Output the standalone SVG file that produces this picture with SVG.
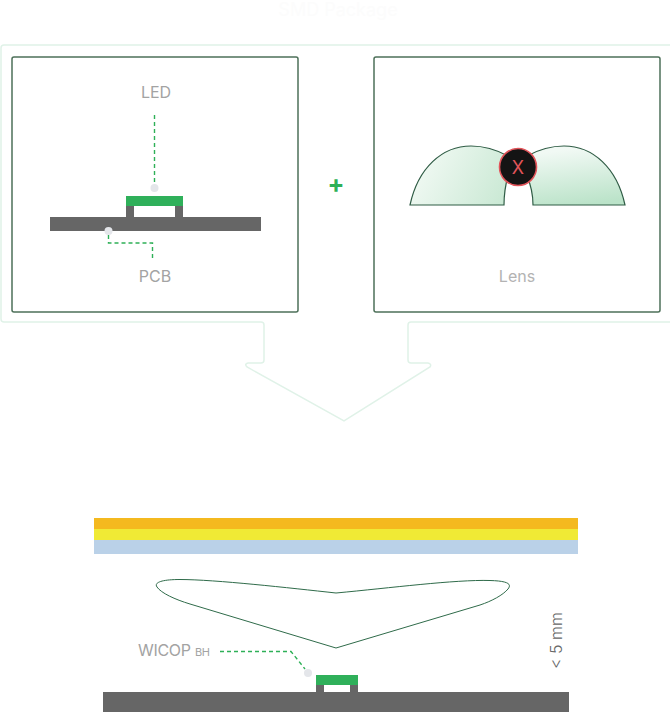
<svg xmlns="http://www.w3.org/2000/svg" width="670" height="712" viewBox="0 0 670 712">
<style>
text{font-family:"Inter","Liberation Sans",sans-serif}
.lb{font-size:16px;fill:#a3a3a3;text-anchor:middle}
.box{fill:#fff;stroke:#4d7059;stroke-width:1.5}
.out{fill:none;stroke:#e0f2e8;stroke-width:1.5}
.dash{fill:none;stroke:#2eb057;stroke-width:1.4;stroke-dasharray:4 3}
.dot{fill:#e4e6ea}
.pcb{fill:#666}
.led{fill:#2fb05a}
.lens{stroke:#2f5c45;stroke-width:1.2}
</style>
<defs>
<linearGradient id="g1" gradientUnits="userSpaceOnUse" x1="425" y1="165" x2="510" y2="210"><stop offset="0" stop-color="#eef8f1"/><stop offset="1" stop-color="#c6e7d1"/></linearGradient>
<linearGradient id="g2" gradientUnits="userSpaceOnUse" x1="565" y1="150" x2="572" y2="206"><stop offset="0" stop-color="#f1f9f4"/><stop offset="1" stop-color="#bbe3c9"/></linearGradient>
</defs>
<text id="title" x="338" y="16" font-size="18" fill="#fcfcfc" text-anchor="middle">SMD Package</text>
<g id="panel"><path class="out" d="M670 45H4Q1 45 1 48V319Q1 322 4 322H261Q264 322 264 325V360Q264 363 261 363H248Q244 364 247 367L344 421L430 367Q432 364 428 363H411Q408 363 408 360V325Q408 322 411 322H670"/></g>
<g id="led-box"><rect class="box" x="12" y="57" width="286" height="255" rx="2"/>
<text class="lb" x="156" y="98">LED</text>
<text class="lb" x="155" y="282">PCB</text>
<rect class="pcb" x="50" y="217" width="211" height="14"/>
<rect class="pcb" x="126" y="203" width="8" height="14"/><rect class="pcb" x="175" y="203" width="8" height="14"/>
<rect class="led" x="126" y="196" width="57" height="10"/></g>
<g id="plus"><text x="336" y="193" font-size="25" font-weight="700" fill="#2eb057" text-anchor="middle">+</text></g>
<g id="lens-box"><rect class="box" x="374" y="57" width="286" height="255" rx="2"/>
<path class="lens" fill="url(#g1)" d="M410 205C418 168 442 146 471 146C484 146 497 150 508 156L508 176Q504 190 504 205Z"/>
<path class="lens" fill="url(#g2)" d="M625 205C617 168 593 146 564 146C551 146 538 150 527 156L527 176Q533 190 533 205Z"/>
<circle cx="518" cy="167" r="18.500" fill="#141414" stroke="#e2545a" stroke-width="1.600"/>
<text x="518" y="174" font-size="18" fill="#e2545a" text-anchor="middle">X</text>
<text class="lb" x="517" y="282" style="fill:#b3b3b3">Lens</text></g>
<g id="stack"><rect x="94" y="518" width="484" height="11" fill="#f4b91f"/><rect x="94" y="529" width="484" height="11" fill="#f0ea35"/><rect x="94" y="540" width="484" height="14" fill="#bad1e8"/></g>
<g id="wide-lens"><path id="lens-outline" fill="#fff" stroke="#2f6b4a" stroke-width="1" d="M336 593C290 588 215 579.500 180 579.500C160 579.500 154 583 157 587C161 593 175 599.500 190 604L336 648L480 605C492 601 503 595 508 589C512 584 508 581 490 580.500C455 579.500 390 588 336 593Z"/></g>
<g id="wicop"><rect class="pcb" x="103" y="692" width="466" height="20"/>
<rect class="pcb" x="316" y="684" width="8" height="8"/><rect class="pcb" x="350" y="684" width="8" height="8"/>
<rect class="led" x="316" y="675" width="42" height="10"/>
<text x="138" y="656" font-size="16" fill="#a3a3a3" letter-spacing="-.3">WICOP <tspan font-size="11">BH</tspan></text>
<text transform="translate(562 669) rotate(-90)" font-size="16" font-weight="300" fill="#666">&lt; 5 mm</text></g>
<g id="connectors">
<path class="dash" d="M154.500 115V186"/><circle class="dot" cx="154.500" cy="188" r="4"/>
<path class="dash" d="M152.500 258V243H108.500V233"/><circle class="dot" cx="108.500" cy="231" r="4"/>
<path class="dash" d="M220 651.500H291L305 669"/><circle class="dot" cx="308" cy="673" r="4"/>
</g>
</svg>
